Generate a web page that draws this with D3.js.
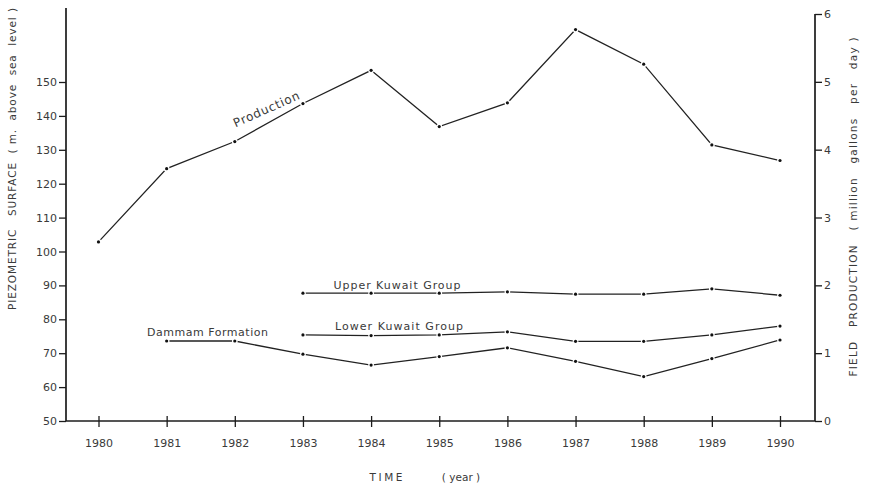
<!DOCTYPE html>
<html>
<head>
<meta charset="utf-8">
<script src="https://cdn.jsdelivr.net/npm/d3@7"></script>
<style>
  html, body { margin: 0; padding: 0; background: #fff; }
  svg { display: block; }
  text { font-family: "DejaVu Sans", "Liberation Sans", sans-serif; fill: #3a3a3a; }
</style>
</head>
<body>
<svg id="chart" width="871" height="489"></svg>
<script>
// Years on the time axis
const years = [1980, 1981, 1982, 1983, 1984, 1985, 1986, 1987, 1988, 1989, 1990];

// Field production (million gallons per day), right axis
const production = [2.64, 3.72, 4.12, 4.68, 5.17, 4.34, 4.69, 5.77, 5.26, 4.07, 3.84];

// Piezometric surface (m above sea level), left axis
const upperYears = [1983, 1984, 1985, 1986, 1987, 1988, 1989, 1990];
const upperKuwait = [87.7, 87.7, 87.7, 88.1, 87.4, 87.4, 89.0, 87.1];

const lowerYears = [1983, 1984, 1985, 1986, 1987, 1988, 1989, 1990];
const lowerKuwait = [75.4, 75.2, 75.4, 76.3, 73.5, 73.5, 75.4, 78.0];

const dammamYears = [1981, 1982, 1983, 1984, 1985, 1986, 1987, 1988, 1989, 1990];
const dammam = [73.6, 73.6, 69.7, 66.5, 69.0, 71.6, 67.6, 63.1, 68.4, 73.9];

// Tick values
const leftTicks = [50, 60, 70, 80, 90, 100, 110, 120, 130, 140, 150];
const rightTicks = [0, 1, 2, 3, 4, 5, 6];

const svg = d3.select("#chart");

const x = d3.scaleLinear().domain([1980, 1990]).range([98.5, 780]);
const yL = d3.scaleLinear().domain([50, 150]).range([421, 82]);
const yR = d3.scaleLinear().domain([0, 6]).range([421, 14]);

const axisX0 = 66, axisX1 = 815, axisY = 421;
const ink = "#1c1c1c";

// Left axis
const gL = svg.append("g").attr("transform", `translate(${axisX0},0)`)
  .call(d3.axisLeft(yL).tickValues(leftTicks).tickFormat(d3.format("d"))
    .tickSize(7).tickPadding(2).tickSizeOuter(0));
gL.select(".domain").remove();
gL.append("line").attr("x1", 0).attr("x2", 0).attr("y1", 8).attr("y2", axisY)
  .attr("stroke", ink).attr("stroke-width", 1.7);

// Right axis
const gR = svg.append("g").attr("transform", `translate(${axisX1},0)`)
  .call(d3.axisRight(yR).tickValues(rightTicks).tickFormat(d3.format("d"))
    .tickSize(7).tickPadding(2).tickSizeOuter(0));
gR.select(".domain").remove();
gR.append("line").attr("x1", 0).attr("x2", 0).attr("y1", yR(6)).attr("y2", axisY)
  .attr("stroke", ink).attr("stroke-width", 1.7);

// Bottom (time) axis with crossing tick marks
const gB = svg.append("g").attr("transform", `translate(0,${axisY})`)
  .call(d3.axisBottom(x).tickValues(years).tickFormat(d3.format("d"))
    .tickSize(6).tickPadding(12).tickSizeOuter(0));
gB.select(".domain").remove();
gB.selectAll(".tick line").attr("y1", -5).attr("y2", 6);
gB.append("line").attr("x1", axisX0).attr("x2", axisX1).attr("y1", 0).attr("y2", 0)
  .attr("stroke", ink).attr("stroke-width", 1.7);

[gL, gR, gB].forEach(g => {
  g.selectAll(".tick line").attr("stroke", ink).attr("stroke-width", 1.3);
  g.selectAll(".tick text").style("font-size", "11px").style("fill", "#3a3a3a")
    .style("font-family", "'DejaVu Sans', sans-serif");
});

// Series drawing helper: polyline with small dot markers
function drawSeries(xs, ys, yScale) {
  const pts = xs.map((d, i) => [x(d), yScale(ys[i])]);
  svg.append("path")
    .attr("d", d3.line()(pts))
    .attr("fill", "none")
    .attr("stroke", "#222")
    .attr("stroke-width", 1.3);
  svg.append("g").selectAll("circle").data(pts).join("circle")
    .attr("cx", d => d[0]).attr("cy", d => d[1]).attr("r", 1.6)
    .attr("fill", "#111").attr("stroke", "#fff").attr("stroke-width", 2.6)
    .attr("paint-order", "stroke");
}

drawSeries(years, production, yR);
drawSeries(upperYears, upperKuwait, yL);
drawSeries(lowerYears, lowerKuwait, yL);
drawSeries(dammamYears, dammam, yL);

// Series labels
function label(txt, cx, cy, len, size, rot) {
  const t = svg.append("text")
    .attr("x", cx).attr("y", cy)
    .attr("text-anchor", "middle")
    .style("font-size", size + "px")
    .attr("textLength", len).attr("lengthAdjust", "spacing")
    .text(txt);
  if (rot) t.attr("transform", `rotate(${rot},${cx},${cy})`);
  return t;
}
label("Upper Kuwait Group", 397, 289, 127, 11);
label("Lower Kuwait Group", 399, 330, 128, 11);
label("Dammam Formation", 207.5, 336, 121, 11);
label("Production", 268, 113, 71, 12, -24);

// Axis titles
svg.append("text")
  .attr("transform", "translate(16,159) rotate(-90)")
  .attr("text-anchor", "middle")
  .style("font-size", "10.5px")
  .style("white-space", "pre")
  .attr("textLength", 302).attr("lengthAdjust", "spacing")
  .text("PIEZOMETRIC   SURFACE  ( m.  above  sea  level )");

svg.append("text")
  .attr("transform", "translate(857,207) rotate(-90)")
  .attr("text-anchor", "middle")
  .style("font-size", "10.5px")
  .style("white-space", "pre")
  .attr("textLength", 339).attr("lengthAdjust", "spacing")
  .text("FIELD   PRODUCTION   ( million   gallons   per   day )");

svg.append("text")
  .attr("x", 386).attr("y", 481)
  .attr("text-anchor", "middle")
  .style("font-size", "10.5px")
  .attr("textLength", 33).attr("lengthAdjust", "spacing")
  .text("TIME");
svg.append("text")
  .attr("x", 461).attr("y", 481)
  .attr("text-anchor", "middle")
  .style("font-size", "10.5px")
  .style("white-space", "pre")
  .text("( year )");
</script>
</body>
</html>
